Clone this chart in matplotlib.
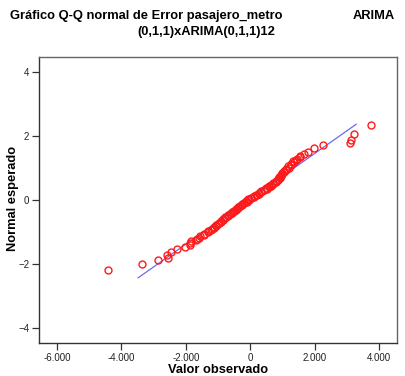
import matplotlib
matplotlib.use('Agg')
import matplotlib.pyplot as plt
from matplotlib.ticker import FuncFormatter
import numpy as np

plt.rcParams['font.family'] = ['Liberation Sans', 'DejaVu Sans']

obs_low = [-4432, -3354, -2857, -2557, -2578, -2454, -2277, -2040, -1885]
exp_low = [-2.17, -2.00, -1.86, -1.79, -1.72, -1.61, -1.53, -1.46, -1.40]

obs_mid = [-1868, -1830, -1699, -1658, -1585, -1560, -1440, -1425, -1300, -1310,
           -1210, -1200, -1130, -1135, -1060, -1060, -990, -985, -915, -920,
           -840, -845, -770, -770, -690, -705, -630, -640, -565, -580,
           -500, -515, -440, -455, -380, -390, -315, -325, -250, -260,
           -185, -190, -115, -125, -50, -55, 35, 25, 115, 105,
           195, 185, 275, 265, 350, 340, 430, 420, 510, 495,
           590, 580, 650, 645, 715, 705, 790, 785, 870, 860,
           915, 905, 955, 950, 1000, 990, 1060, 1045, 1125, 1115,
           1195, 1185, 1270, 1260, 1345, 1335, 1425, 1440, 1535, 1560]
exp_mid = [-1.34, -1.29, -1.25, -1.21, -1.17, -1.13, -1.09, -1.05, -1.01, -0.97,
           -0.93, -0.89, -0.86, -0.83, -0.80, -0.77, -0.74, -0.71, -0.68, -0.65,
           -0.62, -0.59, -0.56, -0.53, -0.50, -0.48, -0.45, -0.43, -0.40, -0.38,
           -0.35, -0.33, -0.30, -0.28, -0.25, -0.23, -0.20, -0.18, -0.15, -0.13,
           -0.10, -0.08, -0.05, -0.03, 0.00, 0.02, 0.05, 0.07, 0.10, 0.12,
           0.15, 0.17, 0.20, 0.22, 0.25, 0.27, 0.30, 0.32, 0.35, 0.37,
           0.40, 0.43, 0.45, 0.48, 0.50, 0.53, 0.56, 0.59, 0.62, 0.65,
           0.68, 0.71, 0.74, 0.77, 0.80, 0.83, 0.86, 0.89, 0.93, 0.97,
           1.01, 1.05, 1.09, 1.13, 1.17, 1.21, 1.25, 1.29, 1.34, 1.38]

obs_high = [1655, 1780, 1966, 2246, 3084, 3128, 3230, 3736]
exp_high = [1.44, 1.50, 1.61, 1.70, 1.77, 1.885, 2.07, 2.35]

observed = obs_low + obs_mid + obs_high
expected = exp_low + exp_mid + exp_high

# reference line
mu = -51
sigma = 1416
line_x = np.array([-3480, 3290])

xticks = [-6000, -4000, -2000, 0, 2000, 4000]
yticks = [-4, -2, 0, 2, 4]

fig = plt.figure(figsize=(4.06, 3.76), dpi=100)
ax = fig.add_axes([0.096, 0.088, 0.882, 0.76])

ax.plot(line_x, (line_x - mu) / sigma, color='#6b6bf0', lw=0.9, zorder=2)
ax.plot(observed, expected, 'o', mfc='none', mec='#ff1a1a', ms=5, mew=1.0, zorder=3)

ax.set_xlim(-6560, 4560)
ax.set_ylim(-4.45, 4.45)
ax.set_xticks(xticks)
ax.set_yticks(yticks)

def fmt_thousands(v, pos):
    if v == 0:
        return '0'
    return '{:,.0f}'.format(v).replace(',', '.')

ax.xaxis.set_major_formatter(FuncFormatter(fmt_thousands))
ax.tick_params(direction='out', length=5, width=0.9, labelsize=7,
               colors='#333333', pad=2)
ax.tick_params(axis='both', labelcolor='#222222')

for sp in ax.spines.values():
    sp.set_color('#333333')
    sp.set_linewidth(1.0)
ax.spines['top'].set_color('#666666')
ax.spines['right'].set_color('#666666')

# axis titles placed in figure pixels
fig.text(218 / 406, 1 - 370 / 376, 'Valor observado',
         fontsize=9.3, fontweight='bold', ha='center', va='center')
fig.text(13 / 406, 1 - 198 / 376, 'Normal esperado', rotation=90,
         fontsize=9.3, fontweight='bold', ha='center', va='center')

fig.text(10 / 406, 1 - 16 / 376, 'Gráfico Q-Q normal de Error pasajero_metro',
         fontsize=9.3, fontweight='bold', ha='left', va='center')
fig.text(395 / 406, 1 - 16 / 376, 'ARIMA',
         fontsize=9.3, fontweight='bold', ha='right', va='center')
fig.text(206 / 406, 1 - 32 / 376, '(0,1,1)xARIMA(0,1,1)12',
         fontsize=9.3, fontweight='bold', ha='center', va='center')

fig.savefig('out.png', dpi=100)
